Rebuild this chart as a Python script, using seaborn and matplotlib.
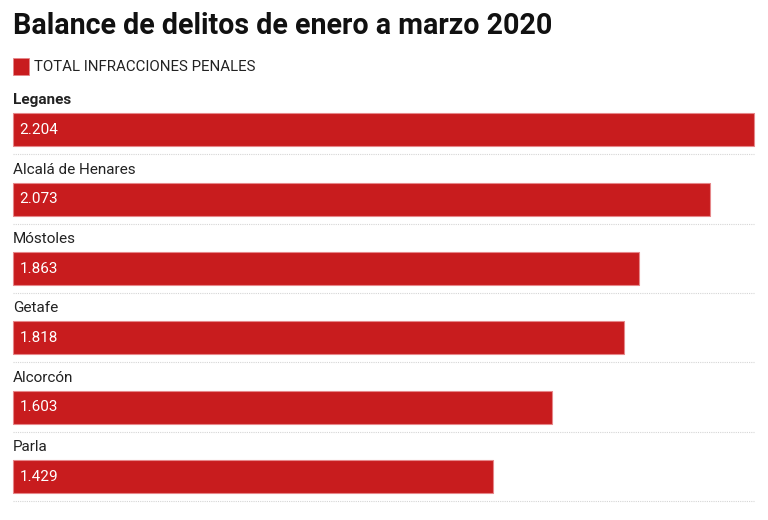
import matplotlib
matplotlib.use("Agg")
import matplotlib.pyplot as plt
import seaborn as sns
import pandas as pd

# Data
municipios = ["Leganes", "Alcalá de Henares", "Móstoles", "Getafe", "Alcorcón", "Parla"]
infracciones = [2204, 2073, 1863, 1818, 1603, 1429]
serie = "TOTAL INFRACCIONES PENALES"
titulo = "Balance de delitos de enero a marzo 2020"

df = pd.DataFrame({"municipio": municipios, "total": infracciones})

sns.set_theme(style="white")
plt.rcParams["font.family"] = ["Roboto", "DejaVu Sans"]

rojo = "#c81c1e"
W, H = 768, 520
fig = plt.figure(figsize=(W / 100, H / 100), dpi=100)

# axes placed in pixel space: left 13, right 754, top 85, bottom 501
left, right, top, bottom = 13, 754, 85, 501
ax = fig.add_axes([left / W, 1 - bottom / H, (right - left) / W, (bottom - top) / H])

sns.barplot(data=df, x="total", y="municipio", orient="h", color=rojo,
            width=0.476, edgecolor="#e6878a", linewidth=0.8, ax=ax)
for p in ax.patches:
    p.set_facecolor(rojo)
    p.set_clip_on(False)

ax.set_xlim(0, max(infracciones))
ax.set_ylim(5.351, -0.649)
ax.axis("off")

for i, (m, v) in enumerate(zip(municipios, infracciones)):
    ax.text(0, i - 0.43, m, ha="left", va="center", fontsize=11,
            color="#222222", fontweight="bold" if i == 0 else "normal")
    ax.text(max(infracciones) * 0.009, i, f"{v:,}".replace(",", "."),
            ha="left", va="center", fontsize=11, color="white")
    ax.axhline(i + 0.351, xmin=0, xmax=1, color="#d5d5d5", linestyle=(0, (1, 1)),
               linewidth=0.8, clip_on=False)

# Title and legend
fig.text(13 / W, 1 - 26 / H, titulo, ha="left", va="center", fontsize=20.6,
         fontweight="bold", color="#111111")
fig.patches.append(plt.Rectangle((13 / W, 1 - 75 / H), 16 / W, 17 / H,
                                 transform=fig.transFigure, facecolor=rojo,
                                 edgecolor="#e6878a", linewidth=0.6))
fig.text(34 / W, 1 - 67 / H, serie, ha="left", va="center", fontsize=10.8,
         color="#222222")

fig.savefig("out.png", dpi=100, facecolor="white")
